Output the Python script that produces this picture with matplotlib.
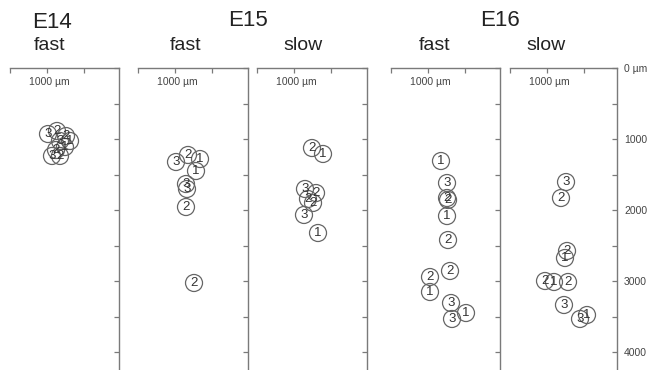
import matplotlib
matplotlib.use("Agg")
import matplotlib.pyplot as plt

plt.rcParams['font.family'] = ['Liberation Sans', 'DejaVu Sans']

# ---- data (x, depth in µm, label) ----
p1_x = [1027, 1270, 1514, 1622, 1351, 1486, 1243, 1135, 1351]
p1_y = [930, 887, 958, 1028, 1028, 1113, 1155, 1239, 1239]
p1_l = ['3', '2', '2', '1', '3', '1', '2', '3', '2']

p2_x = [1027, 1351, 1676, 1568, 1297, 1324, 1297, 1514]
p2_y = [1324, 1225, 1282, 1451, 1634, 1704, 1958, 3028]
p2_l = ['3', '2', '1', '1', '3', '3', '2', '2']

p3_x = [1486, 1784, 1297, 1595, 1378, 1514, 1270, 1649]
p3_y = [1127, 1211, 1704, 1761, 1845, 1901, 2070, 2324]
p3_l = ['2', '1', '3', '2', '2', '2', '3', '1']

p4_x = [1351, 1514, 1514, 1541, 1514, 1541, 1595, 1054, 1054, 1622, 2027, 1649]
p4_y = [1310, 1620, 1831, 1859, 2085, 2423, 2859, 2944, 3155, 3310, 3451, 3535]
p4_l = ['1', '3', '2', '2', '1', '2', '2', '2', '1', '3', '1', '3']

p5_x = [1514, 1378, 1541, 1486, 946, 1189, 1568, 1459, 2081, 1892]
p5_y = [1606, 1831, 2577, 2676, 3000, 3014, 3014, 3338, 3479, 3535]
p5_l = ['3', '2', '2', '1', '2', '1', '2', '3', '1', '3']

panels = [(p1_x, p1_y, p1_l), (p2_x, p2_y, p2_l), (p3_x, p3_y, p3_l),
          (p4_x, p4_y, p4_l), (p5_x, p5_y, p5_l)]

x_ticks = [0, 1000, 2000]
y_ticks = [0, 500, 1000, 1500, 2000, 2500, 3000, 3500, 4000]
y_labels = ['0 µm', '', '1000', '', '2000', '', '3000', '', '4000']

group_titles = ['E14', 'E15', 'E16']
speed_titles = ['fast', 'fast', 'slow', 'fast', 'slow']

# ---- layout (pixel geometry) ----
W, H = 650, 370
fig = plt.figure(figsize=(W / 100, H / 100), dpi=100)
lefts = [10, 138, 257, 391, 510]
rights = [119, 248, 367, 500, 617]
top_px = 68
px_per_k_x = 37.0
px_per_k_y = 71.0

line_col = '#7a7a7a'
circ_col = '#666666'
txt_col = '#333333'

for i, ((xs, ys, ls), l, r) in enumerate(zip(panels, lefts, rights)):
    ax = fig.add_axes([l / W, 0, (r - l) / W, (H - top_px) / H])
    ax.set_xlim(0, (r - l) / px_per_k_x * 1000)
    ax.set_ylim((H - top_px) / px_per_k_y * 1000, 0)
    for s in ['left', 'bottom']:
        ax.spines[s].set_visible(False)
    for s in ['top', 'right']:
        ax.spines[s].set_color(line_col)
        ax.spines[s].set_linewidth(1.0)
    ax.xaxis.set_ticks_position('top')
    ax.set_xticks(x_ticks)
    ax.set_xticklabels([])
    ax.tick_params(axis='x', direction='in', length=3.5, color=line_col, width=0.9)
    ax.yaxis.set_ticks_position('right')
    ax.set_yticks(y_ticks)
    if i == 4:
        ax.set_yticklabels(y_labels)
    else:
        ax.set_yticklabels([])
    ax.tick_params(axis='y', direction='in', length=3.5, color=line_col, width=0.9,
                   labelsize=7.5, labelcolor='#444444', pad=5)
    ax.text(1050, 200, '1000 µm', ha='center', va='center', fontsize=7.5, color='#444444')
    ax.scatter(xs, ys, s=150, facecolors='none', edgecolors=circ_col, linewidths=0.9, zorder=3)
    for x, y, t in zip(xs, ys, ls):
        ax.text(x, y, t, ha='center', va='center', fontsize=9.5, color=txt_col, zorder=4)

# titles
fig.text(52 / W, 1 - 22 / H, 'E14', ha='center', va='center', fontsize=16, color='#222222')
fig.text(248 / W, 1 - 21 / H, 'E15', ha='center', va='center', fontsize=16, color='#222222')
fig.text(500 / W, 1 - 21 / H, 'E16', ha='center', va='center', fontsize=16, color='#222222')
for cx, t in zip([50, 186, 303, 435, 546], speed_titles):
    fig.text(cx / W, 1 - 45 / H, t, ha='center', va='center', fontsize=14, color='#222222')

fig.savefig('out.png', dpi=100)
